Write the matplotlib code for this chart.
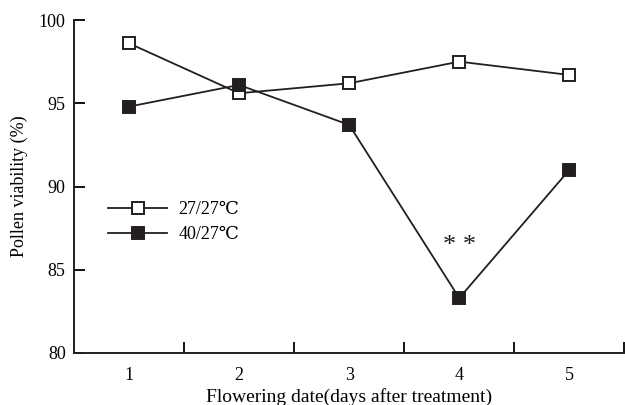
import matplotlib
matplotlib.use("Agg")
from matplotlib import pyplot as plt
import numpy as np

# データ
days = [1, 2, 3, 4, 5]
control = [98.6, 95.6, 96.2, 97.5, 96.7]   # 27/27℃
heat = [94.8, 96.1, 93.7, 83.3, 91.0]      # 40/27℃
y_ticks = [80, 85, 90, 95, 100]

plt.rcParams['font.family'] = ['Liberation Serif', 'DejaVu Serif', 'Noto Sans CJK SC']
plt.rcParams['font.size'] = 13

fig = plt.figure(figsize=(6.25, 4.05), dpi=100)
ax = fig.add_axes([0.1184, 0.1284, 0.8806, 0.8222])

ax.plot(days, control, color="#231f20", lw=1.3, marker="s", ms=8.5,
        mfc="white", mec="#231f20", mew=1.4, label="27/27℃")
ax.plot(days, heat, color="#231f20", lw=1.3, marker="s", ms=8.5,
        mfc="#231f20", mec="#231f20", mew=1.4, label="40/27℃")

# 有意差の記号
ax.text(4, 86.4, "* *", ha="center", va="center", fontsize=19, color="#231f20")

ax.set_xlim(0.5, 5.5)
ax.set_ylim(80, 100)
ax.set_yticks(y_ticks)
# カテゴリの間に目盛りを付ける
ax.set_xticks([1.5, 2.5, 3.5, 4.5, 5.5])
ax.set_xticklabels([])
ax.set_xticks(days, minor=True)
ax.set_xticklabels([str(d) for d in days], minor=True)
ax.tick_params(axis="x", which="major", direction="in", length=8, width=1.3)
ax.tick_params(axis="x", which="minor", length=0, pad=10)
ax.tick_params(axis="y", direction="in", length=8, width=1.3, pad=6)

for s in ["top", "right"]:
    ax.spines[s].set_visible(False)
for s in ["left", "bottom"]:
    ax.spines[s].set_linewidth(1.4)
    ax.spines[s].set_color("#231f20")

ax.set_xlabel("Flowering date(days after treatment)", fontsize=14, labelpad=3)
ax.set_ylabel("Pollen viability (%)", fontsize=13, labelpad=8)

ax.legend(loc="upper left", bbox_to_anchor=(0.032, 0.505), frameon=False,
          handlelength=3.3, handletextpad=0.6, labelspacing=0.45, fontsize=13)

fig.savefig("out.png", dpi=100)
